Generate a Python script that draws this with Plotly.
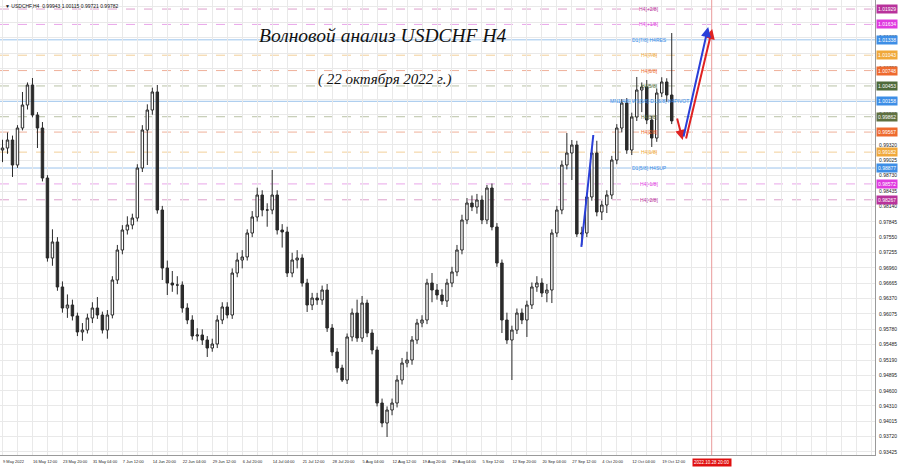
import plotly.graph_objects as go

# ---------------- data ----------------
bar_open = [0.99223, 0.99261, 0.99415, 0.98935, 0.99645, 1.00087, 1.00471, 0.99895, 0.99645, 0.98685,
            0.97149, 0.97457, 0.96593, 0.96189, 0.96247, 0.96036, 0.95729, 0.95767, 0.95997, 0.96189,
            0.96055, 0.95767, 0.96055, 0.96727, 0.97303, 0.97687, 0.97783, 0.97917, 0.98877, 0.99607,
            0.99991, 1.00337, 0.98071, 0.96957, 0.96669, 0.96631, 0.96631, 0.96189, 0.95959, 0.95652,
            0.95671, 0.95575, 0.95421, 0.95498, 0.95959, 0.96209, 0.96055, 0.96861, 0.97111, 0.97169,
            0.97629, 0.97937, 0.98359, 0.98071, 0.98071, 0.98359, 0.97687, 0.97649, 0.96861, 0.97111,
            0.97149, 0.96669, 0.96247, 0.96381, 0.96343, 0.96535, 0.95805, 0.95345, 0.95037, 0.94807,
            0.95633, 0.96093, 0.95613, 0.96285, 0.95709, 0.95383, 0.94365, 0.93981, 0.94231, 0.94365,
            0.94807, 0.95133, 0.95191, 0.95575, 0.95901, 0.95959, 0.96669, 0.96535, 0.96439, 0.96324,
            0.96669, 0.96881, 0.97303, 0.97879, 0.98205, 0.98129, 0.98263, 0.97879, 0.98493, 0.97745,
            0.97053, 0.95959, 0.95575, 0.95767, 0.96093, 0.95959, 0.96247, 0.96593, 0.96669, 0.96477,
            0.96535, 0.97629, 0.98071, 0.98935, 0.99165, 0.99319, 0.97610, 0.97629, 0.98321, 0.99165,
            0.98033, 0.98167, 0.98359, 0.99031, 0.99645, 1.00125, 0.99223, 0.99857, 1.00375, 1.00433,
            0.99799, 0.99453, 1.00317, 1.00529, 1.00279]
bar_close = [0.99261, 0.99415, 0.98935, 0.99645, 1.00087, 1.00471, 0.99895, 0.99645, 0.98685, 0.97149,
             0.97457, 0.96593, 0.96189, 0.96247, 0.96036, 0.95729, 0.95767, 0.95997, 0.96189, 0.96055,
             0.95767, 0.96055, 0.96727, 0.97303, 0.97687, 0.97783, 0.97917, 0.98877, 0.99607, 0.99991,
             1.00337, 0.98071, 0.96957, 0.96669, 0.96631, 0.96631, 0.96189, 0.95959, 0.95652, 0.95671,
             0.95575, 0.95421, 0.95498, 0.95959, 0.96209, 0.96055, 0.96861, 0.97111, 0.97169, 0.97629,
             0.97937, 0.98359, 0.98071, 0.98071, 0.98359, 0.97687, 0.97649, 0.96861, 0.97111, 0.97149,
             0.96669, 0.96247, 0.96381, 0.96343, 0.96535, 0.95805, 0.95345, 0.95037, 0.94807, 0.95633,
             0.96093, 0.95613, 0.96285, 0.95709, 0.95383, 0.94365, 0.93981, 0.94231, 0.94365, 0.94807,
             0.95133, 0.95191, 0.95575, 0.95901, 0.95959, 0.96669, 0.96535, 0.96439, 0.96324, 0.96669,
             0.96881, 0.97303, 0.97879, 0.98205, 0.98129, 0.98263, 0.97879, 0.98493, 0.97745, 0.97053,
             0.95959, 0.95575, 0.95767, 0.96093, 0.95959, 0.96247, 0.96593, 0.96669, 0.96477, 0.96535,
             0.97629, 0.98071, 0.98935, 0.99165, 0.99319, 0.97610, 0.97629, 0.98321, 0.99165, 0.98033,
             0.98167, 0.98359, 0.99031, 0.99645, 1.00125, 0.99223, 0.99857, 1.00375, 1.00433, 0.99799,
             0.99453, 1.00317, 1.00529, 1.00279, 0.99782]
bar_high = [0.99420, 0.99560, 0.99500, 0.99700, 1.00337, 1.00520, 1.00605, 0.99950, 0.99760, 0.98740,
            0.97700, 0.97550, 0.96700, 0.96450, 0.96350, 0.96100, 0.95900, 0.96080, 0.96300, 0.96400,
            0.96120, 0.96150, 0.96800, 0.97400, 0.97780, 0.97950, 0.98000, 0.98950, 0.99700, 1.00100,
            1.00420, 1.00471, 0.98150, 0.97100, 0.96900, 0.96800, 0.96700, 0.96280, 0.96050, 0.95800,
            0.95780, 0.95650, 0.95600, 0.96050, 0.96300, 0.96300, 0.96950, 0.97250, 0.97300, 0.97700,
            0.98050, 0.98500, 0.98450, 0.98200, 0.98839, 0.98450, 0.97800, 0.97750, 0.97250, 0.97300,
            0.97220, 0.96750, 0.96480, 0.96480, 0.96620, 0.96650, 0.95880, 0.95420, 0.95100, 0.95700,
            0.96180, 0.96350, 0.96420, 0.96350, 0.95780, 0.95450, 0.94450, 0.94300, 0.94450, 0.94900,
            0.95230, 0.95350, 0.95650, 0.95980, 0.96050, 0.96750, 0.96861, 0.96650, 0.96550, 0.96750,
            0.96980, 0.97400, 0.97980, 0.98300, 0.98350, 0.98380, 0.98350, 0.98551, 0.98580, 0.97820,
            0.97120, 0.96100, 0.95850, 0.96180, 0.96180, 0.96330, 0.96680, 0.96800, 0.96760, 0.96650,
            0.97700, 0.98150, 0.99020, 0.99549, 0.99415, 0.99400, 0.97750, 0.98400, 0.99250, 0.99400,
            0.98250, 0.98450, 0.99110, 0.99720, 1.00200, 1.00220, 0.99940, 1.00625, 1.00520, 1.00567,
            0.99880, 1.00400, 1.00620, 1.00600, 1.01469]
bar_low = [0.98990, 0.99150, 0.98705, 0.98880, 0.99600, 1.00000, 0.99850, 0.99261, 0.98620, 0.97080,
           0.97000, 0.96520, 0.96100, 0.96000, 0.95950, 0.95650, 0.95560, 0.95700, 0.95900, 0.95980,
           0.95700, 0.95600, 0.95990, 0.96650, 0.97220, 0.97600, 0.97700, 0.97850, 0.98800, 0.98935,
           0.99900, 0.98000, 0.96727, 0.96439, 0.96500, 0.96450, 0.96100, 0.95880, 0.95580, 0.95550,
           0.95480, 0.95249, 0.95350, 0.95420, 0.95880, 0.95990, 0.95980, 0.96780, 0.96950, 0.97100,
           0.97550, 0.97850, 0.97950, 0.97750, 0.97990, 0.97600, 0.97350, 0.96785, 0.96780, 0.96950,
           0.96600, 0.96113, 0.96150, 0.96250, 0.96250, 0.95730, 0.95270, 0.94950, 0.94769, 0.94730,
           0.95550, 0.95540, 0.95537, 0.95630, 0.95300, 0.94300, 0.93900, 0.93713, 0.94130, 0.94280,
           0.94720, 0.95050, 0.95100, 0.95500, 0.95820, 0.95880, 0.96300, 0.96350, 0.96250, 0.96209,
           0.96590, 0.96800, 0.97220, 0.97800, 0.98050, 0.98000, 0.97800, 0.97800, 0.97680, 0.96980,
           0.95709, 0.95500, 0.94807, 0.95690, 0.95880, 0.95633, 0.96170, 0.96500, 0.96400, 0.96300,
           0.96285, 0.97550, 0.97990, 0.98850, 0.98647, 0.97553, 0.97399, 0.97550, 0.98250, 0.97950,
           0.97879, 0.98013, 0.98280, 0.98950, 0.99560, 0.99150, 0.99127, 0.99780, 0.99950, 0.99720,
           0.99281, 0.99380, 1.00240, 1.00150, 0.99721]
bar_index = list(range(len(bar_open)))

date_labels = ["9 May 2022", "16 May 12:00", "23 May 20:00", "31 May 04:00", "7 Jun 12:00",
               "14 Jun 20:00", "22 Jun 04:00", "29 Jun 12:00", "6 Jul 20:00", "14 Jul 04:00",
               "21 Jul 12:00", "28 Jul 20:00", "5 Aug 04:00", "12 Aug 12:00", "19 Aug 20:00",
               "29 Aug 04:00", "5 Sep 12:00", "12 Sep 20:00", "20 Sep 04:00", "27 Sep 12:00",
               "4 Oct 20:00", "12 Oct 04:00", "19 Oct 12:00"]
date_pos = [0, 6, 12, 18, 24, 30, 36, 42, 48, 54, 60, 66, 72, 78, 84, 90, 96, 102, 108, 114,
            120, 126, 132]

price_ticks = ["1.01970", "1.01675", "1.01380", "1.01085", "1.00790", "1.00495", "1.00200",
               "0.99905", "0.99610", "0.99320", "0.99025", "0.98730", "0.98435", "0.98140",
               "0.97845", "0.97550", "0.97255", "0.96960", "0.96665", "0.96370", "0.96075",
               "0.95780", "0.95485", "0.95190", "0.94895", "0.94600", "0.94310", "0.94015",
               "0.93720", "0.93425"]

level_names = ["H4[+2/8]", "H4[+1/8]", "D1[7/8] H4RES", "H4[7/8]", "H4[6/8]", "H4[5/8]",
               "MN1[4/8] W1[5/8] D1[6/8] H4PIVOT", "H4[3/8]", "H4[2/8]", "H4[1/8]",
               "D1[5/8] H4SUP", "H4[-1/8]", "H4[-2/8]"]
level_values = [1.01929, 1.01634, 1.01338, 1.01043, 1.00748, 1.00453, 1.00158,
                0.99862, 0.99567, 0.99182, 0.98877, 0.98572, 0.98267]
level_colors = ["#b8329b", "#df3bdf", "#3d8ee6", "#f0a83a", "#ee6a2e", "#4e6a3a", "#3d8ee6",
                "#5f703f", "#ee6a2e", "#f0a83a", "#3d8ee6", "#df3bdf", "#b8329b"]
level_line_colors = ["#dda0cc", "#e9a6e9", "#9cc4ec", "#f2cf9a", "#efb09a", "#b9c2a6", "#9cc4ec",
                     "#b9c2a6", "#efb09a", "#f2cf9a", "#9cc4ec", "#e9a6e9", "#dda0cc"]
level_dash = ["dash", "dash", "solid", "dash", "dash", "dash", "solid", "dash", "dash", "dash",
              "solid", "dash", "dash"]

header_text = "▼ USDCHF,H4  0.99943 1.00115 0.99721 0.99782"
title_text = "Волновой анализ USDCHF H4"
subtitle_text = "( 22 октября 2022 г.)"

forecast_index = 142
forecast_label = "2022.10.28 20:00"

# wave drawings (bar index, price)
blue_sep_x = [115.9, 118.3]
blue_sep_y = [0.97361, 0.99511]
red_leg1 = [(135.0, 0.99857), (136.2, 0.99415)]
red_leg2 = [(136.8, 0.99415), (142.1, 1.01546)]
blue_leg = [(136.3, 0.99453), (141.3, 1.01584)]

# ---------------- figure ----------------
fig = go.Figure()

fig.add_trace(go.Candlestick(
    x=bar_index, open=bar_open, high=bar_high, low=bar_low, close=bar_close,
    increasing=dict(line=dict(color="#2a2a2a", width=1), fillcolor="#ffffff"),
    decreasing=dict(line=dict(color="#2a2a2a", width=1), fillcolor="#2a2a2a"),
    whiskerwidth=0, hoverinfo="skip"))

fig.add_trace(go.Scatter(x=blue_sep_x, y=blue_sep_y, mode="lines",
                         line=dict(color="#2a3fd8", width=2), hoverinfo="skip"))

shapes = []
annotations = []
for name, val, col, lcol, dash in zip(level_names, level_values, level_colors,
                                      level_line_colors, level_dash):
    shapes.append(dict(type="line", xref="paper", x0=0, x1=1, yref="y", y0=val, y1=val,
                       line=dict(color=lcol, width=1, dash=dash), layer="below"))
    annotations.append(dict(x=129.5, y=val, xref="x", yref="y", text=name, showarrow=False,
                            font=dict(family="Liberation Sans", size=5, color=col),
                            xanchor="center", yanchor="middle"))
    annotations.append(dict(x=1, y=val, xref="paper", yref="y", text=f"{val:.5f}",
                            showarrow=False, xanchor="left", yanchor="middle", xshift=1,
                            font=dict(family="Liberation Sans", size=5, color="white"),
                            bgcolor=col, borderpad=1))

shapes.append(dict(type="line", xref="x", x0=forecast_index, x1=forecast_index,
                   yref="paper", y0=0, y1=1, line=dict(color="#e99a9a", width=1)))

annotations.append(dict(x=forecast_index, y=0, xref="x", yref="paper", yshift=-7,
                        text=forecast_label, showarrow=False, bgcolor="#e01010",
                        font=dict(family="Liberation Sans", size=4.5, color="white"),
                        xanchor="center", yanchor="middle", borderpad=1))

for leg, col in [(red_leg1, "#e02222"), (red_leg2, "#e02222"), (blue_leg, "#2a3fd8")]:
    (x0, y0), (x1, y1) = leg
    annotations.append(dict(x=x1, y=y1, ax=x0, ay=y0, xref="x", yref="y", axref="x",
                            ayref="y", text="", showarrow=True, arrowhead=2, arrowsize=1,
                            arrowwidth=2, arrowcolor=col))

annotations.append(dict(x=0.003, y=0.998, xref="paper", yref="paper", text=header_text,
                        showarrow=False, xanchor="left", yanchor="top",
                        font=dict(family="Liberation Sans", size=5, color="#111111")))
annotations.append(dict(x=76, y=1.0143, xref="x", yref="y", text=title_text, showarrow=False,
                        font=dict(family="Liberation Serif", size=19.5, color="#111111",
                                  style="italic"),
                        xanchor="center", yanchor="middle"))
annotations.append(dict(x=76.5, y=1.0057, xref="x", yref="y", text=subtitle_text,
                        showarrow=False,
                        font=dict(family="Liberation Serif", size=15, color="#111111",
                                  style="italic"),
                        xanchor="center", yanchor="middle"))

fig.update_layout(
    width=900, height=468,
    margin=dict(l=0, r=25, t=0, b=13),
    paper_bgcolor="white", plot_bgcolor="white",
    showlegend=False,
    shapes=shapes, annotations=annotations,
    xaxis=dict(range=[-0.5, 174.7], rangeslider=dict(visible=False),
               tickmode="array", tickvals=date_pos, ticktext=date_labels,
               ticklabelposition="outside right", ticklabelstandoff=2, tickangle=0,
               tickfont=dict(family="Liberation Sans", size=4, color="#222222"),
               showgrid=False, zeroline=False, ticks="", ticklen=0,
               showline=True, linecolor="#9a9a9a", linewidth=1,
               minor=dict(tick0=0, dtick=3, showgrid=True, gridcolor="#e9e9e9",
                          gridwidth=1, ticks="")),
    yaxis=dict(range=[0.93367, 1.02103], side="right",
               tickmode="array", tickvals=[float(t) for t in price_ticks], ticktext=price_ticks,
               tickfont=dict(family="Liberation Sans", size=5, color="#222222"),
               showgrid=True, gridcolor="#e9e9e9", gridwidth=1, zeroline=False,
               ticks="", ticklen=0, ticklabelstandoff=2,
               showline=True, linecolor="#9a9a9a", linewidth=1),
)

fig.write_html("out.html", config={"displayModeBar": False},
               post_script="document.body.style.margin='0';document.body.style.overflow='hidden';")
